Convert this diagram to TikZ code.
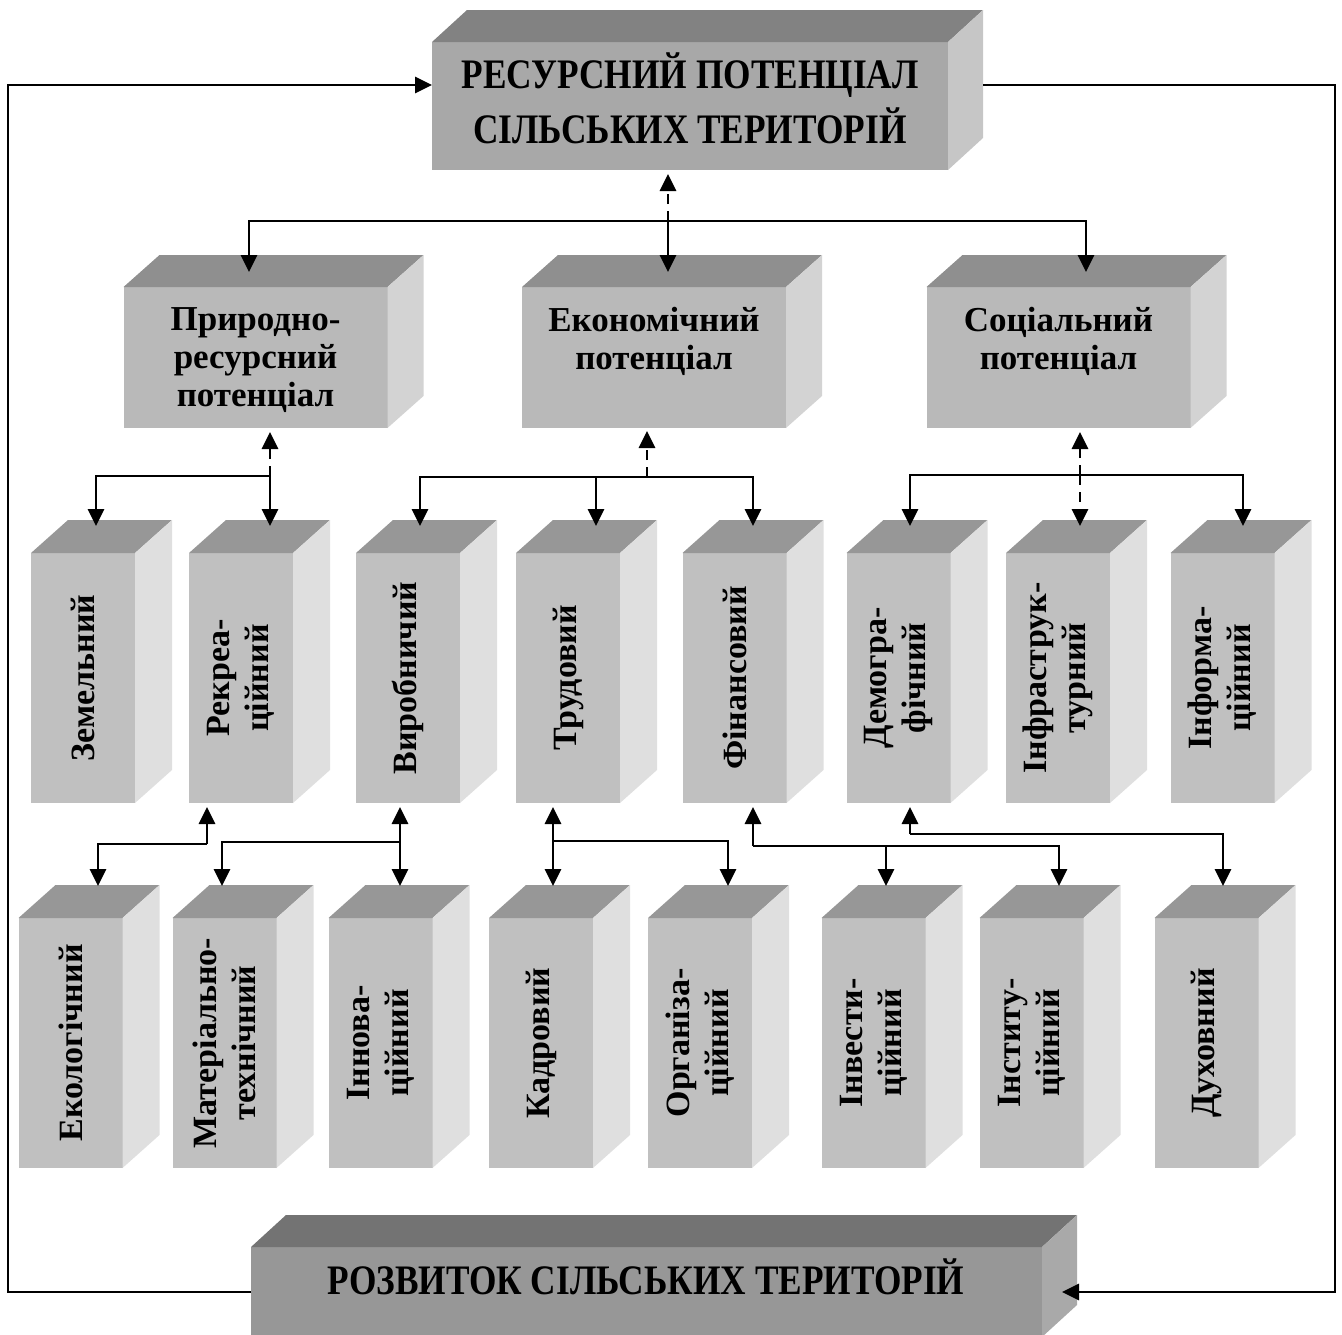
\documentclass[tikz,border=0pt]{standalone}
\usepackage{fontspec}
\setmainfont{Liberation Serif}
\newfontfamily\condfont[FakeStretch=0.84]{Liberation Serif}
\usetikzlibrary{arrows.meta,positioning}

\definecolor{resfront}{HTML}{A8A8A8}
\definecolor{restop}{HTML}{828282}
\definecolor{resside}{HTML}{C6C6C6}
\definecolor{midfront}{HTML}{B9B9B9}
\definecolor{midtop}{HTML}{8F8F8F}
\definecolor{midside}{HTML}{D3D3D3}
\definecolor{lowfront}{HTML}{C0C0C0}
\definecolor{lowtop}{HTML}{979797}
\definecolor{lowside}{HTML}{DFDFDF}
\definecolor{rozfront}{HTML}{979797}
\definecolor{roztop}{HTML}{737373}
\definecolor{rozside}{HTML}{A9A9A9}

\tikzset{
    face/.style={rectangle, inner sep=0pt, outer sep=0pt},
    midbox/.style={face, fill=midfront, minimum width=264pt, minimum height=141pt},
    tallbox/.style={face, fill=lowfront, minimum width=104pt, minimum height=250pt},
    midtext/.style={align=center, inner sep=0pt, font=\bfseries\fontsize{35}{38}\selectfont},
    talltext/.style={rotate=90, align=center, inner sep=0pt, font=\bfseries\fontsize{34}{39}\selectfont},
    headtext/.style={align=center, inner sep=0pt, font=\condfont\bfseries\fontsize{42}{55}\selectfont},
    link/.style={line width=2.8pt, >={Triangle[length=17pt,width=16pt]}},
    dashline/.style={dash pattern=on 10pt off 7pt},
}

\begin{document}
\begin{tikzpicture}[x=1pt,y=-1pt]

    \useasboundingbox (0,0) rectangle (1342,1334);

    \def\cubesides#1#2#3#4#5{
        \fill[#4] (#1.north west) -- ([shift={(#2,#3)}]#1.north west)
            -- ([shift={(#2,#3)}]#1.north east) -- (#1.north east) -- cycle;
        \fill[#5] (#1.north east) -- ([shift={(#2,#3)}]#1.north east)
            -- ([shift={(#2,#3)}]#1.south east) -- (#1.south east) -- cycle;
    }

    % top and bottom blocks
    \node[face, fill=resfront, minimum width=516pt, minimum height=128pt] (res) at (690,106) {};
    \cubesides{res}{35}{-32}{restop}{resside}
    \node[headtext] (res-t) at (690,98) {РЕСУРСНИЙ ПОТЕНЦІАЛ\\СІЛЬСЬКИХ ТЕРИТОРІЙ};

    \node[face, fill=rozfront, minimum width=791pt, minimum height=90pt] (roz) at (646.5,1292) {};
    \cubesides{roz}{35}{-32}{roztop}{rozside}
    \node[headtext, anchor=base] (roz-t) at (646,1294) {РОЗВИТОК СІЛЬСЬКИХ ТЕРИТОРІЙ};

    % second level
    \node[midbox] (pr) at (255.5,357.5) {};
    \node[midbox] (ek) at (654,357.5) {};
    \node[midbox] (so) at (1058.5,357.5) {};
    \foreach \n in {pr,ek,so}
        {\cubesides{\n}{36}{-32}{midtop}{midside}}
    \node[midtext, below=20pt of pr.north] (pr-t) {Природно-\\ресурсний\\потенціал};
    \node[midtext, below=20pt of ek.north] (ek-t) {Економічний\\потенціал};
    \node[midtext, below=20pt of so.north] (so-t) {Соціальний\\потенціал};

    % third level
    \node[tallbox] (zem) at (83,678) {};
    \node[tallbox] (rek) at (241,678) {};
    \node[tallbox] (vyr) at (408,678) {};
    \node[tallbox] (tru) at (568,678) {};
    \node[tallbox] (fin) at (734.5,678) {};
    \node[tallbox] (dem) at (898.5,678) {};
    \node[tallbox] (inf) at (1058,678) {};
    \node[tallbox] (ifm) at (1222.5,678) {};

    % fourth level
    \node[tallbox] (eko) at (70.5,1043) {};
    \node[tallbox] (mat) at (224.5,1043) {};
    \node[tallbox] (inn) at (380.5,1043) {};
    \node[tallbox] (kad) at (541,1043) {};
    \node[tallbox] (org) at (700,1043) {};
    \node[tallbox] (inv) at (873.5,1043) {};
    \node[tallbox] (ins) at (1031.5,1043) {};
    \node[tallbox] (duh) at (1206.5,1043) {};

    \foreach \n in {zem,rek,vyr,tru,fin,dem,inf,ifm,eko,mat,inn,kad,org,inv,ins,duh}
        {\cubesides{\n}{37}{-33}{lowtop}{lowside}}

    \node[talltext] (zem-t) at (zem) {Земельний};
    \node[talltext] (rek-t) at (rek) {Рекреа-\\ційний};
    \node[talltext] (vyr-t) at (vyr) {Виробничий};
    \node[talltext] (tru-t) at (tru) {Трудовий};
    \node[talltext] (fin-t) at (fin) {Фінансовий};
    \node[talltext] (dem-t) at (dem) {Демогра-\\фічний};
    \node[talltext] (inf-t) at (inf) {Інфраструк-\\турний};
    \node[talltext] (ifm-t) at (ifm) {Інформа-\\ційний};
    \node[talltext] (eko-t) at (eko) {Екологічний};
    \node[talltext] (mat-t) at (mat) {Матеріально-\\технічний};
    \node[talltext] (inn-t) at (inn) {Іннова-\\ційний};
    \node[talltext] (kad-t) at (kad) {Кадровий};
    \node[talltext] (org-t) at (org) {Організа-\\ційний};
    \node[talltext] (inv-t) at (inv) {Інвести-\\ційний};
    \node[talltext] (ins-t) at (ins) {Інститу-\\ційний};
    \node[talltext] (duh-t) at (duh) {Духовний};

    % feedback loop
    \coordinate (lc) at (8,85);
    \coordinate (rc) at (1335,85);
    \draw[link,->] (roz.west) -| (lc) -- ([yshift=21pt]res.west);
    \draw[link,->] ([shift={(35,-21)}]res.east) -- (rc) |- ([xshift=20pt]roz.east);

    % first to second level
    \coordinate (h1) at (668,221);
    \draw[link,dashline,->] (h1) -- ([shift={(-22,4)}]res.south);
    \draw[link,->] (h1) -| ([shift={(-6.5,-15)}]pr.north);
    \draw[link,->] (h1) -- ([shift={(14,-15)}]ek.north);
    \draw[link,->] (h1) -| ([shift={(27.5,-15)}]so.north);

    % second to third level
    \coordinate (h2) at (270,476);
    \draw[link,dashline,->] (h2) -- ([shift={(14.5,4)}]pr.south);
    \draw[link,->] (h2) -| ([shift={(13,-27)}]zem.north);
    \draw[link,->] (h2) -- ([shift={(29,-27)}]rek.north);

    \coordinate (h3) at (647,477);
    \draw[link,dashline,->] (h3) -- ([shift={(-7,3)}]ek.south);
    \draw[link,->] (h3) -| ([shift={(12,-27)}]vyr.north);
    \draw[link,->] (h3) -| ([shift={(28,-27)}]tru.north);
    \draw[link,->] (h3) -| ([shift={(18.5,-27)}]fin.north);

    \coordinate (h4) at (1080,475);
    \draw[link,dashline,->] (h4) -- ([shift={(21.5,4)}]so.south);
    \draw[link,->] (h4) -| ([shift={(11.5,-27)}]dem.north);
    \draw[link,dashline,->] (h4) -- ([shift={(22,-27)}]inf.north);
    \draw[link,->] (h4) -| ([shift={(20.5,-27)}]ifm.north);

    % third to fourth level
    \coordinate (h5) at (207,844);
    \draw[link,->] (h5) -- ([shift={(-34,4)}]rek.south);
    \draw[link,->] (h5) -| ([shift={(27.5,-32)}]eko.north);

    \coordinate (h6) at (400,842);
    \draw[link,<->] ([shift={(-8,4)}]vyr.south) -- ([shift={(19.5,-32)}]inn.north);
    \draw[link,->] (h6) -| ([shift={(-2.5,-32)}]mat.north);

    \coordinate (h7) at (553,841);
    \draw[link,<->] ([shift={(-15,4)}]tru.south) -- ([shift={(12,-32)}]kad.north);
    \draw[link,->] (h7) -| ([shift={(28,-32)}]org.north);

    \coordinate (h8) at (753,846);
    \draw[link,->] (h8) -- ([shift={(18.5,4)}]fin.south);
    \draw[link,->] (h8) -| ([shift={(12.5,-32)}]inv.north);
    \draw[link,->] (h8) -| ([shift={(27.5,-32)}]ins.north);

    \coordinate (h9) at (910,834);
    \draw[link,->] (h9) -- ([shift={(11.5,4)}]dem.south);
    \draw[link,->] (h9) -| ([shift={(16.5,-32)}]duh.north);

\end{tikzpicture}
\end{document}
